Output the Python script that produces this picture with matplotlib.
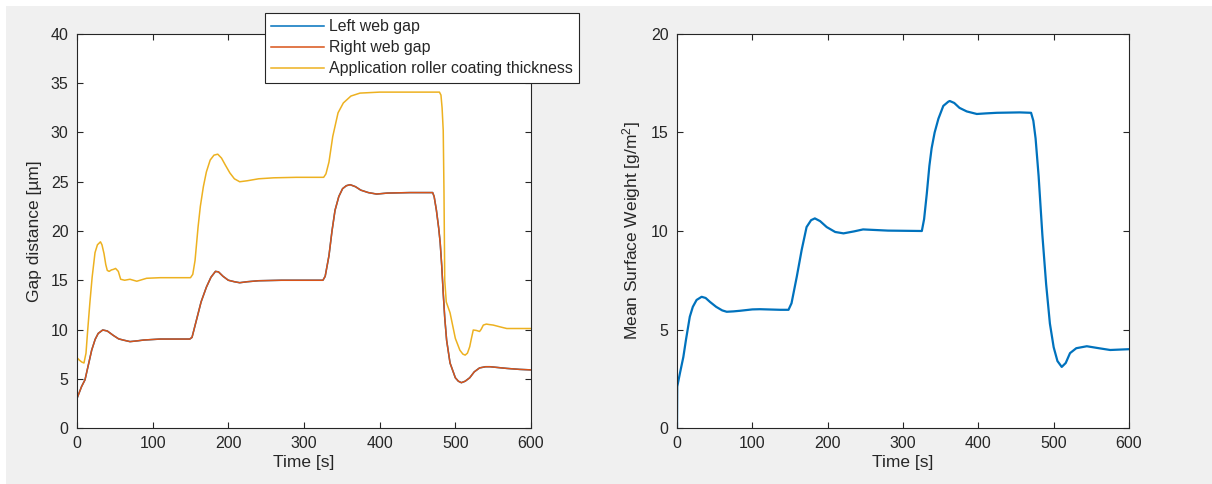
import matplotlib
matplotlib.use('Agg')
import matplotlib.pyplot as plt
from matplotlib.patches import Rectangle

plt.rcParams['font.family'] = ['Liberation Sans', 'DejaVu Sans']
plt.rcParams['mathtext.fontset'] = 'custom'
plt.rcParams['mathtext.rm'] = 'Liberation Sans'
plt.rcParams['mathtext.default'] = 'regular'

# ---- data ----
# right web gap (left web gap lies exactly underneath it)
t_gap = [0, 3, 6, 10.6, 15, 19.4, 24, 28, 34, 40, 48, 55, 61, 70, 80, 88, 110, 149,
         152, 158, 164, 171, 177, 183, 187, 193, 200, 208, 215, 225, 240, 270, 325,
         328, 333, 337, 341, 346, 351, 356, 361, 368, 375, 385, 396, 410, 440, 470,
         472, 475, 478, 480, 482, 484, 486, 488.5, 493, 500, 504, 508, 513, 519, 525,
         532, 540, 546, 555, 568, 585, 600]
right_gap = [3.0, 3.6, 4.2, 4.9, 6.4, 7.9, 9.0, 9.6, 9.95, 9.85, 9.4, 9.05, 8.93, 8.77,
             8.85, 8.93, 9.03, 9.03,
             9.2, 11.0, 12.8, 14.3, 15.3, 15.9, 15.85, 15.4, 15.0, 14.85, 14.75, 14.85,
             14.95, 15.0, 15.0,
             15.4, 17.5, 20.0, 22.1, 23.5, 24.3, 24.6, 24.7, 24.5, 24.15, 23.9, 23.75,
             23.85, 23.9, 23.9,
             23.5, 22.1, 20.3, 18.8, 16.5, 13.7, 11.2, 8.9, 6.6, 5.1, 4.75, 4.6, 4.75,
             5.1, 5.7, 6.1, 6.22, 6.22, 6.15, 6.05, 5.95, 5.9]
left_gap = list(right_gap)

t_coat = [0, 0.5, 3, 6.2, 9.2, 11.9, 14, 17, 20, 23.8, 27, 31, 33, 35.7, 38, 40, 42.5,
          45.5, 48, 51, 54.6, 57.7, 63, 70, 79, 92, 110, 150,
          153, 156, 160, 163, 167, 171, 176, 181, 186, 191, 196, 202, 208, 215, 225,
          240, 260, 290, 326,
          329, 333, 338, 345, 352, 362, 374, 400, 479,
          481, 482.5, 484, 485, 486, 488, 493, 500, 506, 510, 513, 516, 519, 521,
          523.7, 528, 532, 534, 537, 541, 545, 550, 560, 568, 600]
coat = [6.2, 7.1, 6.9, 6.7, 6.6, 7.6, 9.8, 12.7, 15.3, 17.8, 18.6, 18.9, 18.6, 17.7,
        16.6, 16.0, 15.9, 16.05, 16.1, 16.2, 15.9, 15.1, 15.0, 15.1, 14.9, 15.2, 15.26,
        15.26,
        15.6, 17.0, 20.4, 22.5, 24.5, 26.0, 27.2, 27.7, 27.8, 27.4, 26.7, 25.9, 25.3,
        25.0, 25.1, 25.3, 25.4, 25.45, 25.45,
        25.8, 27.0, 29.6, 32.0, 33.0, 33.7, 34.0, 34.1, 34.1,
        33.8, 32.5, 30.2, 24.0, 15.0, 12.8, 11.7, 9.1, 7.9, 7.5, 7.4, 7.6, 8.25, 9.0,
        9.95, 9.9, 9.8, 10.0, 10.45, 10.55, 10.5, 10.45, 10.25, 10.1, 10.1]

t_weight = [0, 0.3, 4, 8.4, 12, 17, 21, 26, 32.7, 38, 43.8, 52, 60, 66, 75, 83.6, 100,
            110, 137, 148,
            152, 159, 165.5, 172, 178, 183, 190, 198.7, 210, 221, 235, 247, 280, 325,
            328, 331.6, 335, 338, 342, 347, 353.5, 360, 362, 368, 375, 384.6, 398, 410,
            424.6, 455, 470,
            473, 476, 480, 485, 490, 495, 500, 505, 510.7, 516, 521.7, 530, 544, 560,
            575, 600]
weight = [0.0, 2.1, 2.8, 3.6, 4.5, 5.65, 6.15, 6.5, 6.66, 6.6, 6.4, 6.15, 5.97, 5.9,
          5.92, 5.95, 6.02, 6.03, 6.0, 6.0,
          6.33, 7.68, 9.04, 10.2, 10.55, 10.64, 10.5, 10.2, 9.95, 9.88, 9.98, 10.08,
          10.02, 10.0,
          10.6, 11.9, 13.3, 14.2, 15.0, 15.7, 16.35, 16.56, 16.6, 16.5, 16.25, 16.07,
          15.94, 15.97, 16.0, 16.02, 16.0,
          15.6, 14.7, 12.8, 9.8, 7.3, 5.3, 4.1, 3.4, 3.1, 3.3, 3.8, 4.05, 4.15, 4.05,
          3.96, 4.0]

gap_labels = ['Left web gap', 'Right web gap', 'Application roller coating thickness']
time_ticks = [0, 100, 200, 300, 400, 500, 600]

BLUE = '#0072BD'
ORANGE = '#D95319'
YELLOW = '#EDB120'
INK = '#262626'

W, H = 1212, 484
fig = plt.figure(figsize=(W / 100, H / 100), dpi=100, facecolor='white')
fig.patches.append(Rectangle((6 / W, 0), 1 - 6 / W, 1 - 6 / H, transform=fig.transFigure,
                             facecolor='#F0F0F0', edgecolor='none', zorder=-10))


def style_axes(ax, ymax, ystep):
    ax.set_xlim(0, 600)
    ax.set_ylim(0, ymax)
    ax.set_xticks(time_ticks)
    ax.set_yticks(range(0, ymax + 1, ystep))
    ax.tick_params(direction='in', length=4, width=0.8, colors=INK, labelsize=11.5,
                   top=True, right=True, pad=6)
    for sp in ax.spines.values():
        sp.set_color(INK)
        sp.set_linewidth(0.8)
    ax.set_xlabel('Time [s]', fontsize=12.5, color=INK, labelpad=3)


ax1 = fig.add_axes([77 / W, 1 - 428 / H, 454 / W, 394 / H])
ax1.plot(t_gap, left_gap, color=BLUE, lw=1.1, label=gap_labels[0])
ax1.plot(t_gap, right_gap, color=ORANGE, lw=1.1, label=gap_labels[1])
ax1.plot(t_coat, coat, color=YELLOW, lw=1.1, label=gap_labels[2])
style_axes(ax1, 40, 5)
ax1.set_ylabel('Gap distance [µm]', fontsize=12.5, color=INK, labelpad=6)

leg = ax1.legend(loc='upper left', bbox_to_anchor=(265 / W, 1 - 13 / H),
                 bbox_transform=fig.transFigure, fontsize=11.4, fancybox=False,
                 edgecolor=INK, framealpha=1, borderpad=0.4, borderaxespad=0,
                 handlelength=3.3, handletextpad=0.35, labelspacing=0.38)
leg.get_frame().set_linewidth(0.8)
for txt in leg.get_texts():
    txt.set_color(INK)

ax2 = fig.add_axes([677 / W, 1 - 428 / H, 452 / W, 394 / H])
ax2.plot(t_weight, weight, color=BLUE, lw=1.6)
style_axes(ax2, 20, 5)
ax2.set_ylabel('Mean Surface Weight [g/m$^2$]', fontsize=12.5, color=INK, labelpad=6)

fig.savefig('out.png', dpi=100, facecolor=fig.get_facecolor())
